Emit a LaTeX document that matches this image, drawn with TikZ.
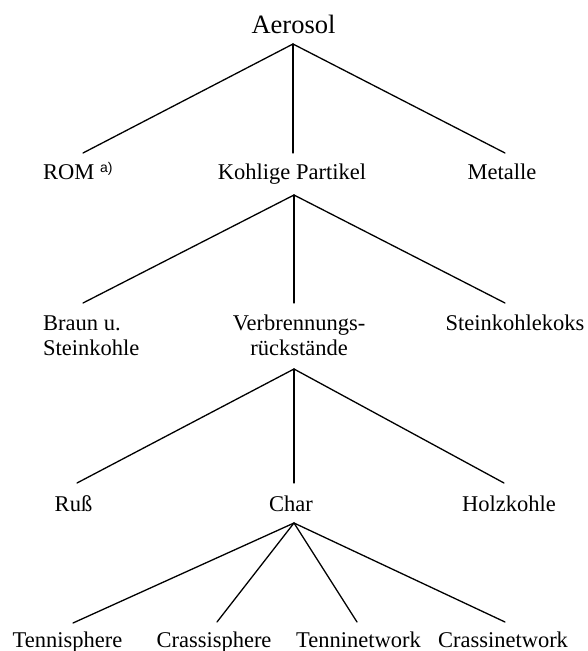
\documentclass[tikz,border=0pt]{standalone}
\usepackage{fontspec}
\setmainfont{Liberation Serif}
\newfontfamily\supfont{Liberation Sans}
\begin{document}
\begin{tikzpicture}[x=1pt,y=-1pt,
  lbl/.style={inner sep=0pt, anchor=base, font=\fontsize{22.5}{25}\selectfont},
  edge/.style={line width=1.3pt, line cap=round, line join=round}]
\useasboundingbox (0,0) rectangle (588,651);
% nodes
\node[lbl, font=\fontsize{26.5}{28}\selectfont] (aer) at (293.5,33) {Aerosol};
\node[lbl, anchor=base west] (rom) at (43,179) {ROM {\supfont\fontsize{14}{14}\selectfont\raisebox{7pt}{a)}}};
\node[lbl] (koh) at (292,179) {Kohlige Partikel};
\node[lbl] (met) at (502,179) {Metalle};
\node[lbl, anchor=base west, align=left] (bra) at (43,355) {Braun u.\\Steinkohle};
\node[lbl, align=center] (ver) at (299,355) {Verbrennungs-\\rückstände};
\node[lbl] (ste) at (515,330) {Steinkohlekoks};
\node[lbl] (rus) at (73.5,511) {Ruß};
\node[lbl] (cha) at (291,511) {Char};
\node[lbl] (hol) at (509,511) {Holzkohle};
\node[lbl] (tsp) at (67.5,647) {Tennisphere};
\node[lbl] (csp) at (214,647) {Crassisphere};
\node[lbl] (tnw) at (358.5,647) {Tenninetwork};
\node[lbl] (cnw) at (503,647) {Crassinetwork};
% connector end points
\coordinate (aer-s) at (293,44);
\coordinate (rom-n) at (83,153);
\coordinate (koh-n) at (293,153);
\coordinate (met-n) at (505,153);
\coordinate (koh-s) at (294,195);
\coordinate (bra-n) at (83,303);
\coordinate (ver-n) at (294,303);
\coordinate (ste-n) at (505,303);
\coordinate (ver-s) at (294,369);
\coordinate (rus-n) at (77,483);
\coordinate (cha-n) at (294,483);
\coordinate (hol-n) at (504,483);
\coordinate (cha-s) at (294,523);
\coordinate (tsp-n) at (73,623);
\coordinate (csp-n) at (217,622);
\coordinate (tnw-n) at (357,622);
\coordinate (cnw-n) at (505,622);
% connectors
\draw[edge] (aer-s) -- (rom-n);
\draw[edge] (aer-s) -- (koh-n);
\draw[edge] (aer-s) -- (met-n);
\draw[edge] (koh-s) -- (bra-n);
\draw[edge] (koh-s) -- (ver-n);
\draw[edge] (koh-s) -- (ste-n);
\draw[edge] (ver-s) -- (rus-n);
\draw[edge] (ver-s) -- (cha-n);
\draw[edge] (ver-s) -- (hol-n);
\draw[edge] (cha-s) -- (tsp-n);
\draw[edge] (cha-s) -- (csp-n);
\draw[edge] (cha-s) -- (tnw-n);
\draw[edge] (cha-s) -- (cnw-n);
\end{tikzpicture}
\end{document}
